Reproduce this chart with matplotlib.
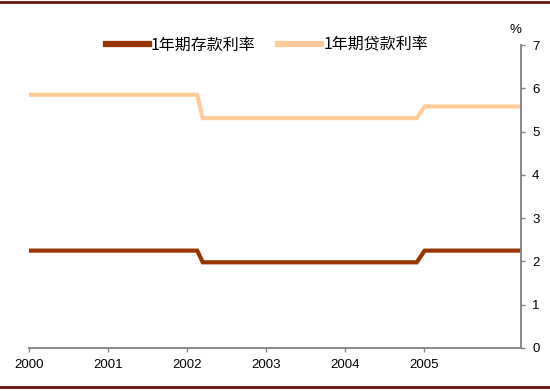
import matplotlib.pyplot as plt
from matplotlib.lines import Line2D

plt.rcParams['font.family'] = ['Liberation Sans', 'Noto Sans CJK SC', 'DejaVu Sans']

# breakpoints (fractional year) and rates
dates = [2000.0, 2002.13, 2002.2, 2004.91, 2005.01, 2006.23]
deposit = [2.25, 2.25, 1.98, 1.98, 2.25, 2.25]
loan = [5.85, 5.85, 5.31, 5.31, 5.58, 5.58]
years = [2000, 2001, 2002, 2003, 2004, 2005]
yticks = [0, 1, 2, 3, 4, 5, 6, 7]

fig = plt.figure(figsize=(5.5, 3.91), dpi=100)
ax = fig.add_axes([29/550, 43/391, 492/550, 303/391])

ax.plot(dates, loan, color='#FFCC99', lw=3, solid_joinstyle='miter')
ax.plot(dates, deposit, color='#993300', lw=3, solid_joinstyle='miter')

ax.set_xlim(2000, 2006.23)
ax.set_ylim(0, 7)
ax.set_xticks(years)
ax.set_xticklabels([str(y) for y in years], fontsize=9.5)
ax.set_yticks(yticks)
ax.yaxis.tick_right()
ax.set_yticklabels([str(v) for v in yticks], fontsize=9.5)

for s in ['top', 'left']:
    ax.spines[s].set_visible(False)
for s in ['bottom', 'right']:
    ax.spines[s].set_color('#808080')
    ax.spines[s].set_linewidth(1.3)
ax.tick_params(axis='both', colors='#808080', length=3, width=1, labelcolor='black')
ax.tick_params(axis='x', pad=5)
ax.tick_params(axis='y', pad=5)

ax.text(1.0, 1.03, '%', transform=ax.transAxes, ha='right', va='bottom', fontsize=9.5)

handles = [Line2D([], [], color='#993300', lw=4.5),
           Line2D([], [], color='#FFCC99', lw=4.5)]
fig.legend(handles, ['1年期存款利率', '1年期贷款利率'], loc='center', bbox_to_anchor=(267/550, 1 - 45/391),
           ncol=2, frameon=False, handlelength=2.7, handletextpad=0.15, columnspacing=1.4,
           prop={'family': ['Noto Sans CJK SC', 'DejaVu Sans'], 'size': 11.5})

fig.add_artist(Line2D([0, 1], [1 - 2/391, 1 - 2/391], transform=fig.transFigure, color='#6E1010', lw=2))
fig.add_artist(Line2D([0, 1], [4/391, 4/391], transform=fig.transFigure, color='#6E1010', lw=2))

fig.savefig('out.png', dpi=100)
